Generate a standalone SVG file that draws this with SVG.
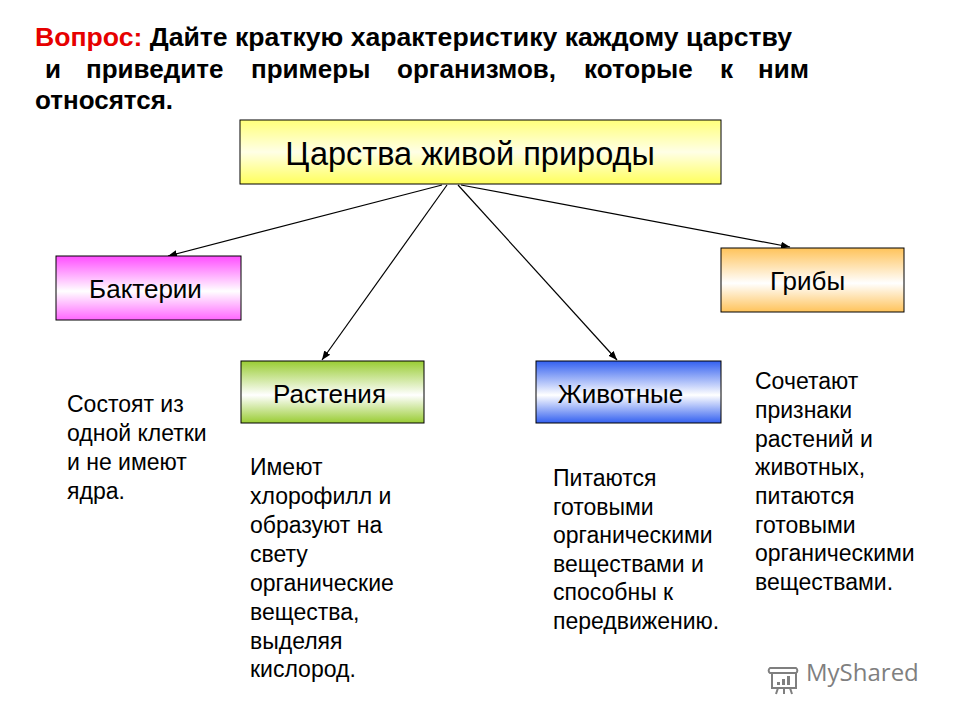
<svg xmlns="http://www.w3.org/2000/svg" width="960" height="720" viewBox="0 0 960 720">
<defs>
<style>
.t{font-family:"Liberation Sans",Arial,sans-serif;fill:#000}
.title{font-size:26px;font-weight:bold}
.lbl{font-size:26px;text-anchor:middle}
.body{font-size:23px}
.box{stroke:#000;stroke-width:1}
.con{stroke:#000;stroke-width:1.2;fill:none;marker-end:url(#ah)}
</style>
<linearGradient id="gY" x1="0" y1="0" x2="0" y2="1"><stop offset="0" stop-color="#ffff7a"/><stop offset="0.5" stop-color="#ffffe6"/><stop offset="1" stop-color="#ffff5c"/></linearGradient>
<linearGradient id="gM" x1="0" y1="0" x2="0" y2="1"><stop offset="0" stop-color="#ff4dff"/><stop offset="0.55" stop-color="#ffffff"/><stop offset="1" stop-color="#ff66ff"/></linearGradient>
<linearGradient id="gO" x1="0" y1="0" x2="0" y2="1"><stop offset="0" stop-color="#ffc35a"/><stop offset="0.55" stop-color="#ffffff"/><stop offset="1" stop-color="#ffc35a"/></linearGradient>
<linearGradient id="gG" x1="0" y1="0" x2="0" y2="1"><stop offset="0" stop-color="#99cc33"/><stop offset="0.55" stop-color="#ffffff"/><stop offset="1" stop-color="#99cc33"/></linearGradient>
<linearGradient id="gB" x1="0" y1="0" x2="0" y2="1"><stop offset="0" stop-color="#3360f0"/><stop offset="0.55" stop-color="#ffffff"/><stop offset="1" stop-color="#3360f0"/></linearGradient>
<marker id="ah" viewBox="0 0 10 10" refX="10" refY="5" markerWidth="9" markerHeight="9" markerUnits="userSpaceOnUse" orient="auto"><path d="M0,1 L10,5 L0,9 Z" fill="#000"/></marker>
</defs>
<rect width="960" height="720" fill="#fff"/>

<g id="question">
<text class="t title" x="35" y="46" textLength="757" lengthAdjust="spacingAndGlyphs"><tspan fill="#e60000">Вопрос:</tspan> Дайте краткую характеристику каждому царству</text>
<text class="t title" y="78"><tspan x="45">и</tspan><tspan x="86">приведите</tspan><tspan x="251">примеры</tspan><tspan x="397">организмов,</tspan><tspan x="584">которые</tspan><tspan x="720">к</tspan><tspan x="758">ним</tspan></text>
<text class="t title" x="35" y="109">относятся.</text>
</g>

<g id="connectors">
<line class="con" x1="442" y1="185" x2="168" y2="256"/>
<line class="con" x1="447" y1="185" x2="322" y2="360"/>
<line class="con" x1="458" y1="185" x2="617" y2="360"/>
<line class="con" x1="461" y1="185" x2="790" y2="247"/>
</g>

<g id="root">
<rect class="box" x="240" y="120" width="481" height="64" fill="url(#gY)"/>
<text class="t" x="470" y="165" font-size="32.5" text-anchor="middle">Царства живой природы</text>
</g>

<g id="bacteria">
<rect class="box" x="56" y="256" width="185" height="64" fill="url(#gM)"/>
<text class="t lbl" x="145.5" y="298">Бактерии</text>
</g>

<g id="fungi">
<rect class="box" x="721" y="248" width="183" height="64" fill="url(#gO)"/>
<text class="t lbl" x="807.5" y="290">Грибы</text>
</g>

<g id="plants">
<rect class="box" x="241" y="361" width="183" height="62" fill="url(#gG)"/>
<text class="t lbl" x="329.5" y="403">Растения</text>
</g>

<g id="animals">
<rect class="box" x="536" y="361" width="185" height="62" fill="url(#gB)"/>
<text class="t lbl" x="620.5" y="403">Животные</text>
</g>

<g id="bacteria-text">
<text class="t body" x="67" y="412">Состоят из</text>
<text class="t body" x="67" y="441">одной клетки</text>
<text class="t body" x="67" y="470">и не имеют</text>
<text class="t body" x="67" y="499">ядра.</text>
</g>

<g id="plants-text">
<text class="t body" x="250" y="475">Имеют</text>
<text class="t body" x="250" y="504">хлорофилл и</text>
<text class="t body" x="250" y="533">образуют на</text>
<text class="t body" x="250" y="562">свету</text>
<text class="t body" x="250" y="591">органические</text>
<text class="t body" x="250" y="620">вещества,</text>
<text class="t body" x="250" y="649">выделяя</text>
<text class="t body" x="250" y="677">кислород.</text>
</g>

<g id="animals-text">
<text class="t body" x="553" y="486">Питаются</text>
<text class="t body" x="553" y="514.5">готовыми</text>
<text class="t body" x="553" y="543">органическими</text>
<text class="t body" x="553" y="571.5">веществами и</text>
<text class="t body" x="553" y="600">способны к</text>
<text class="t body" x="553" y="628.5">передвижению.</text>
</g>

<g id="fungi-text">
<text class="t body" x="755" y="389">Сочетают</text>
<text class="t body" x="755" y="418">признаки</text>
<text class="t body" x="755" y="447">растений и</text>
<text class="t body" x="755" y="475">животных,</text>
<text class="t body" x="755" y="504">питаются</text>
<text class="t body" x="755" y="533">готовыми</text>
<text class="t body" x="755" y="561">органическими</text>
<text class="t body" x="755" y="590">веществами.</text>
</g>

<g id="watermark" opacity="0.75">
<g fill="none" stroke="#555" stroke-width="2">
<path d="M770,668 h26 a3,3 0 0 1 0,5 h-26 a3,3 0 0 1 0,-5 z"/>
<rect x="772" y="673" width="24" height="15"/>
<path d="M778,688 l-2,6 M784,688 v6 M790,688 l2,6"/>
</g>
<g fill="#555">
<rect x="777" y="682" width="3" height="3"/>
<rect x="782" y="679" width="3" height="6"/>
<rect x="787" y="676" width="3" height="9"/>
</g>
<text x="806" y="681" font-family="'Open Sans',sans-serif" font-size="24" fill="#555">MyShared</text>
</g>
</svg>
